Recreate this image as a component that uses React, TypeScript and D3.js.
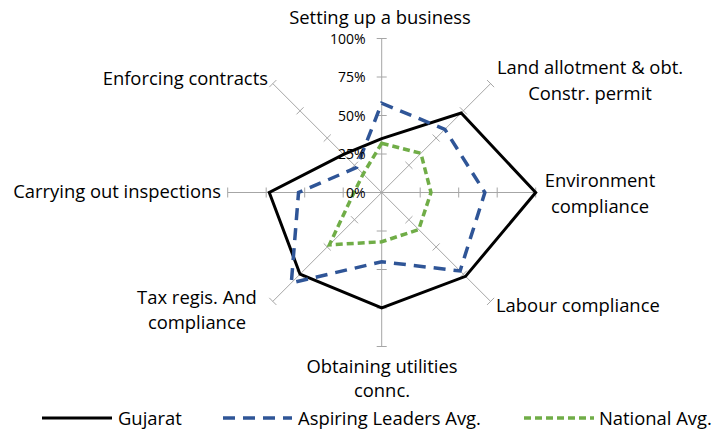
import React from "react";
import * as d3 from "d3";

const categories = [
  ["Setting up a business"],
  ["Land allotment & obt.", "Constr. permit"],
  ["Environment", "compliance"],
  ["Labour compliance"],
  ["Obtaining utilities", "connc."],
  ["Tax regis. And", "compliance"],
  ["Carrying out inspections"],
  ["Enforcing contracts"],
];
const gujarat = [35, 73, 100, 77, 75, 75, 73, 35];
const aspiring = [58, 58, 67, 72, 45, 83, 54, 23];
const national = [32, 36, 32, 34, 32, 48, 18, 17];
const tickValues = [0, 25, 50, 75, 100];
const seriesNames = ["Gujarat", "Aspiring Leaders Avg.", "National Avg."];

const W = 713, H = 430;
const cx = 381.7, cy = 192.5, R = 154;
const FONT = "'Open Sans', Lato, sans-serif";
const FS = 18.4;

// label placement per category: [x, y, anchor, lineGap]
const labelPos: [number, number, string, number][] = [
  [380, 24, "middle", 26],
  [590, 74, "middle", 26],
  [600, 187, "middle", 26],
  [496, 312, "start", 26],
  [382, 373, "middle", 24],
  [197, 304, "middle", 25],
  [221, 198, "end", 26],
  [268, 85, "end", 26],
];

export default function App() {
  const r = d3.scaleLinear().domain([0, 100]).range([0, R]);
  const n = categories.length;
  const angle = (i: number) => (i * 2 * Math.PI) / n;
  const pt = (i: number, v: number): [number, number] => [
    cx + r(v) * Math.sin(angle(i)),
    cy - r(v) * Math.cos(angle(i)),
  ];
  const line = d3.lineRadial<number>()
    .angle((_, i) => angle(i))
    .radius((d) => r(d))
    .curve(d3.curveLinearClosed);

  const series = [
    { data: gujarat, color: "#000000", dash: "none", width: 3 },
    { data: aspiring, color: "#2F5597", dash: "12,8", width: 3.5 },
    { data: national, color: "#70AD47", dash: "7,4", width: 3.5 },
  ];

  return (
    <svg width={W} height={H} style={{ position: "absolute", left: 0, top: 0, background: "#fff" }}>
      {categories.map((_, i) => {
        const [x2, y2] = pt(i, 100);
        const a = angle(i);
        const px = Math.cos(a), py = Math.sin(a);
        return (
          <g key={i}>
            <line x1={cx} y1={cy} x2={x2} y2={y2} stroke="#A6A6A6" strokeWidth={1} />
            {tickValues.slice(1).map((t) => {
              const [tx, ty] = pt(i, t);
              return (
                <line key={t} x1={tx - px * 5} y1={ty - py * 5} x2={tx + px * 5} y2={ty + py * 5}
                  stroke="#A6A6A6" strokeWidth={1} />
              );
            })}
          </g>
        );
      })}
      {series.map((s, k) => (
        <path key={k} d={line(s.data) || ""} transform={`translate(${cx},${cy})`}
          fill="none" stroke={s.color} strokeWidth={s.width} strokeDasharray={s.dash}
          strokeLinejoin="miter" />
      ))}
      {tickValues.map((t) => (
        <text key={t} x={cx - 16} y={cy - r(t) + 5} textAnchor="end" fontFamily={FONT} fontSize={14} fill="#000">
          {t}%
        </text>
      ))}
      {categories.map((lines, i) => (
        <text key={i} x={labelPos[i][0]} y={labelPos[i][1]} textAnchor={labelPos[i][2] as any}
          fontFamily={FONT} fontSize={FS} fill="#000">
          {lines.map((l, j) => (
            <tspan key={j} x={labelPos[i][0]} dy={j === 0 ? 0 : labelPos[i][3]}>{l}</tspan>
          ))}
        </text>
      ))}
      {[[42, 112, 118], [223, 292, 298], [524, 594, 599]].map(([x1, x2, tx], k) => (
        <g key={k}>
          <line x1={x1} x2={x2} y1={418} y2={418} stroke={series[k].color} strokeWidth={series[k].width}
            strokeDasharray={series[k].dash} />
          <text x={tx} y={425} fontFamily={FONT} fontSize={FS} fill="#000">{seriesNames[k]}</text>
        </g>
      ))}
    </svg>
  );
}
